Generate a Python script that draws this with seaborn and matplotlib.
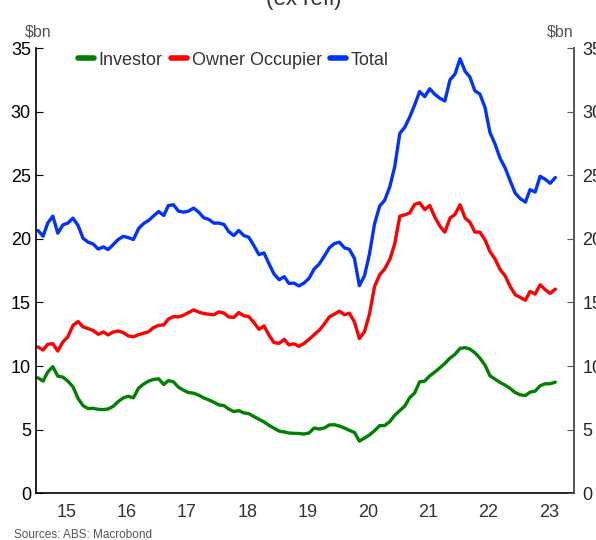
import pandas as pd
import matplotlib.pyplot as plt
import matplotlib.dates as mdates
import seaborn as sns
import numpy as np

# monthly values, $bn, Jan 2015 - Aug 2023
investor = [9.08, 8.82, 9.53, 9.95, 9.21, 9.13, 8.82, 8.37, 7.45, 6.89, 6.66, 6.68,
            6.60, 6.58, 6.63, 6.84, 7.21, 7.50, 7.63, 7.50, 8.26, 8.58, 8.82, 8.95,
            9.00, 8.55, 8.86, 8.76, 8.34, 8.10, 7.92, 7.87, 7.71, 7.50, 7.34, 7.16,
            6.95, 6.89, 6.63, 6.42, 6.50, 6.32, 6.26, 6.03, 5.82, 5.61, 5.34, 5.11,
            4.89, 4.82, 4.74, 4.71, 4.70, 4.66, 4.74, 5.13, 5.05, 5.13, 5.37, 5.39,
            5.29, 5.13, 4.95, 4.79, 4.10, 4.34, 4.58, 4.92, 5.32, 5.32, 5.63, 6.13,
            6.50, 6.87, 7.50, 7.89, 8.76, 8.82, 9.23, 9.53, 9.87, 10.21, 10.63, 10.92,
            11.39, 11.45, 11.34, 11.05, 10.63, 10.08, 9.24, 8.97, 8.71, 8.50, 8.24, 7.92,
            7.74, 7.68, 7.95, 8.03, 8.45, 8.61, 8.61, 8.74]
owner = [11.50, 11.26, 11.71, 11.76, 11.18, 11.90, 12.30, 13.20, 13.50, 13.08, 12.95, 12.80,
         12.50, 12.68, 12.45, 12.68, 12.76, 12.63, 12.37, 12.30, 12.47, 12.58, 12.70, 13.03,
         13.20, 13.24, 13.70, 13.89, 13.87, 14.00, 14.21, 14.42, 14.24, 14.13, 14.08, 14.03,
         14.26, 14.16, 13.87, 13.82, 14.21, 13.95, 13.89, 13.42, 12.89, 13.16, 12.42, 11.84,
         11.79, 12.10, 11.66, 11.75, 11.55, 11.79, 12.10, 12.47, 12.82, 13.29, 13.87, 14.08,
         14.32, 14.03, 14.16, 13.47, 12.16, 12.71, 14.08, 16.26, 17.18, 17.63, 18.37, 19.60,
         21.79, 21.89, 22.03, 22.71, 22.84, 22.30, 22.63, 21.71, 21.00, 20.53, 21.63, 21.92,
         22.68, 21.63, 21.32, 20.53, 20.53, 19.92, 19.00, 18.42, 17.58, 17.10, 16.24, 15.61,
         15.39, 15.18, 15.87, 15.66, 16.39, 16.00, 15.71, 16.05]
total = [20.66, 20.21, 21.24, 21.79, 20.45, 21.10, 21.24, 21.63, 21.05, 20.05, 19.74, 19.60,
         19.20, 19.37, 19.16, 19.55, 19.95, 20.20, 20.10, 19.95, 20.80, 21.20, 21.45, 21.80,
         22.15, 21.84, 22.62, 22.68, 22.18, 22.10, 22.18, 22.42, 22.10, 21.66, 21.53, 21.24,
         21.24, 21.13, 20.58, 20.26, 20.66, 20.26, 20.13, 19.47, 18.76, 18.90, 18.03, 17.24,
         16.79, 17.03, 16.50, 16.52, 16.30, 16.53, 16.90, 17.63, 18.03, 18.63, 19.29, 19.63,
         19.74, 19.29, 19.18, 18.47, 16.32, 17.10, 18.80, 21.18, 22.58, 23.03, 24.08, 25.66,
         28.29, 28.79, 29.55, 30.53, 31.58, 31.18, 31.80, 31.37, 31.05, 30.84, 32.50, 32.95,
         34.16, 33.16, 32.74, 31.63, 31.39, 30.34, 28.37, 27.45, 26.32, 25.58, 24.55, 23.60,
         23.16, 22.89, 23.87, 23.68, 24.92, 24.68, 24.37, 24.82]

dates = pd.date_range("2015-01-01", periods=len(total), freq="MS") + pd.Timedelta(days=9)
datos = pd.DataFrame({"date": dates, "Investor": investor,
                      "Owner Occupier": owner, "Total": total})
largo = datos.melt(id_vars="date", var_name="serie", value_name="valor")

sns.set_style("white")
plt.rcParams["font.family"] = ["Liberation Sans", "DejaVu Sans"]

fig = plt.figure(figsize=(5.96, 5.4), dpi=100)
ax = fig.add_axes([0.0612, 0.0865, 0.9018, 0.8245])
colores = {"Investor": "#008000", "Owner Occupier": "#ff0000", "Total": "#0033ff"}
sns.lineplot(data=largo, x="date", y="valor", hue="serie", palette=colores,
             linewidth=2.4, ax=ax)

ax.set_ylim(0, 35)
ax.set_xlim(pd.Timestamp("2015-01-01"), pd.Timestamp("2023-12-01"))
ax.set_yticks(range(0, 36, 5))
ax.set_xlabel("")
ax.set_ylabel("")

# year boundaries as ticks, labels in the middle of each year
ax.xaxis.set_major_locator(mdates.YearLocator(month=1, day=1))
ax.xaxis.set_major_formatter(plt.NullFormatter())
ax.xaxis.set_minor_locator(mdates.YearLocator(month=7, day=1))
ax.xaxis.set_minor_formatter(mdates.DateFormatter("%y"))
ax.tick_params(axis="x", which="major", direction="in", length=4, color="#555555")
ax.tick_params(axis="x", which="minor", length=0, pad=8, labelsize=13, labelcolor="#333333")
ax.tick_params(axis="y", direction="in", length=5, labelsize=13, pad=4, colors="black")

ax.spines["top"].set_visible(False)
ax.spines["left"].set_color("black")
ax.spines["bottom"].set_color("black")
ax.spines["right"].set_color("#555555")
for s in ["left", "bottom", "right"]:
    ax.spines[s].set_linewidth(1.2)

# right axis repeats the scale; its labels run off the edge like the original
ax2 = ax.twinx()
ax2.set_ylim(0, 35)
ax2.set_yticks(range(0, 36, 5))
ax2.tick_params(axis="y", direction="in", length=5, labelsize=13, pad=6, color="#555555")
for s in ["top", "left", "bottom"]:
    ax2.spines[s].set_visible(False)
ax2.spines["right"].set_color("#555555")
ax2.spines["right"].set_linewidth(1.2)

ax.legend(loc="center left", bbox_to_anchor=(0.077, 0.973), ncol=3, frameon=False,
          handlelength=0.9, handletextpad=0.25, columnspacing=0.45, borderpad=0,
          borderaxespad=0, fontsize=13, labelcolor="#333333")
for linea in ax.get_legend().get_lines():
    linea.set_linewidth(4)

fig.text(0.064, 1 - 36 / 540, "$bn", fontsize=11.5, color="#555555", ha="center")
fig.text(0.94, 1 - 36 / 540, "$bn", fontsize=11.5, color="#555555", ha="center")
fig.text(0.51, 1 - 5 / 540, "(ex refi)", fontsize=16, color="#333333", ha="center", va="baseline")
fig.text(0.023, 0.004, "Sources: ABS: Macrobond", fontsize=8.5, color="#555555")

plt.savefig("out.png", dpi=100)
